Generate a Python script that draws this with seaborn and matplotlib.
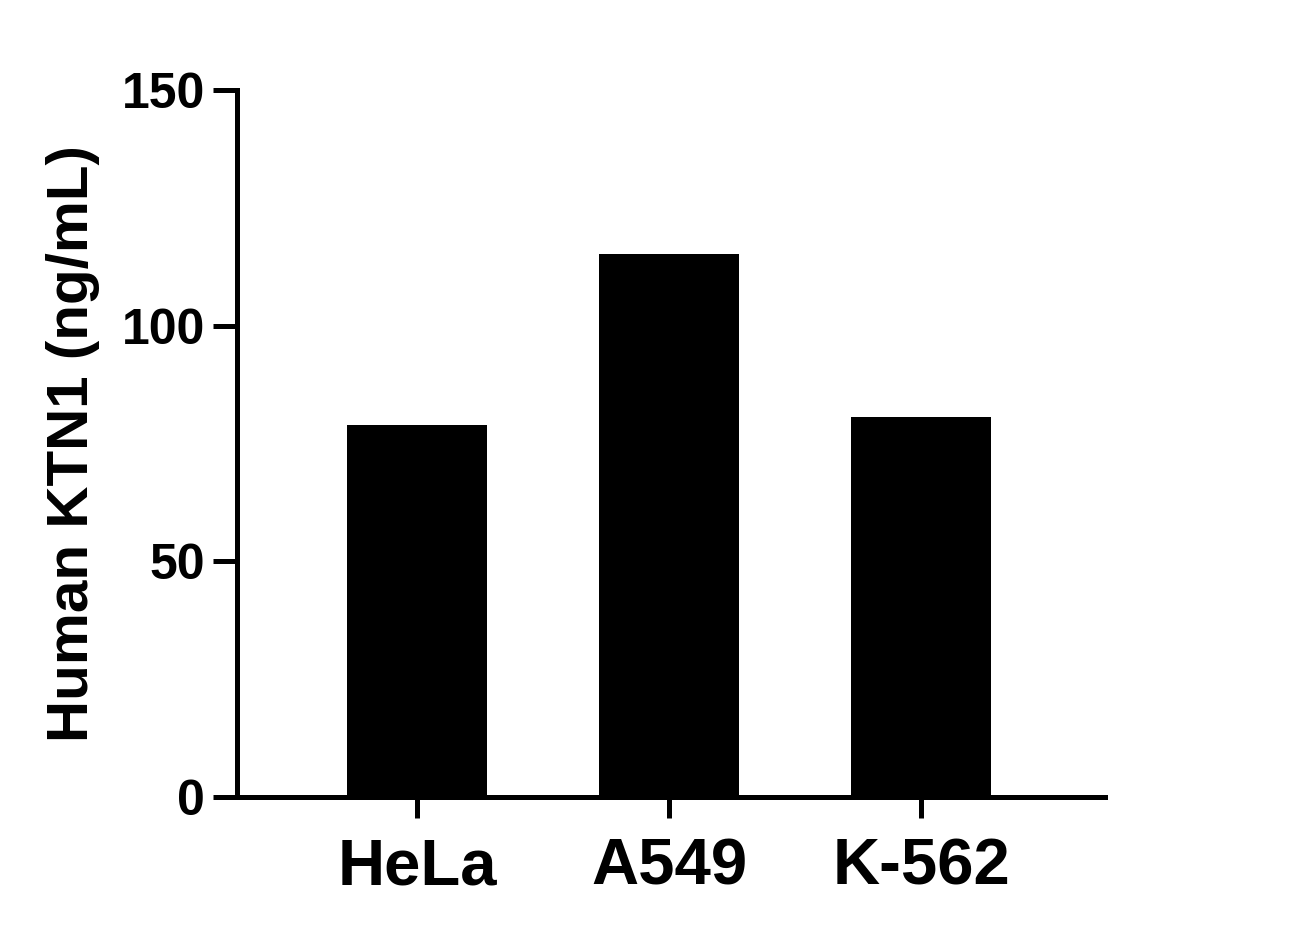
import matplotlib
matplotlib.use("Agg")
import matplotlib.pyplot as plt
import seaborn as sns
import pandas as pd

categories = ["HeLa", "A549", "K-562"]
values = [78.9, 115.2, 80.6]
yticks = [0, 50, 100, 150]

sns.set_style("ticks")
plt.rcParams['font.family'] = ['Liberation Sans', 'DejaVu Sans']
plt.rcParams['font.weight'] = 'bold'
plt.rcParams['text.color'] = 'black'
plt.rcParams['axes.labelcolor'] = 'black'
plt.rcParams['xtick.color'] = 'black'
plt.rcParams['ytick.color'] = 'black'

df = pd.DataFrame({"cell": categories, "val": values})

fig = plt.figure(figsize=(13.03, 9.44), dpi=100)
ax = fig.add_axes([237/1303, 147/944, (1105-237)/1303, (797-90)/944])
sns.barplot(data=df, x="cell", y="val", color="black", width=0.556,
            saturation=1, ax=ax, edgecolor="black", linewidth=0)

ax.set_xlim(-0.714, 2.73)
ax.set_ylim(0, 150)
ax.set_yticks(yticks)
ax.set_yticklabels([str(t) for t in yticks], fontsize=36, fontweight='bold', color='black')
ax.set_xticks(range(len(categories)))
ax.set_xticklabels(categories, fontsize=47, fontweight='bold', color='black')
ax.set_xlabel("")
ax.set_ylabel("Human KTN1 (ng/mL)", fontsize=42, fontweight='bold', labelpad=16, color='black')

for s in ["top", "right"]:
    ax.spines[s].set_visible(False)
for s in ["left", "bottom"]:
    ax.spines[s].set_linewidth(3.6)
    ax.spines[s].set_color("black")
ax.tick_params(axis='y', length=17, width=3.6, pad=6, colors='black')
ax.tick_params(axis='x', length=15, width=3.6, pad=14, colors='black')

fig.savefig("out.png", dpi=100)
